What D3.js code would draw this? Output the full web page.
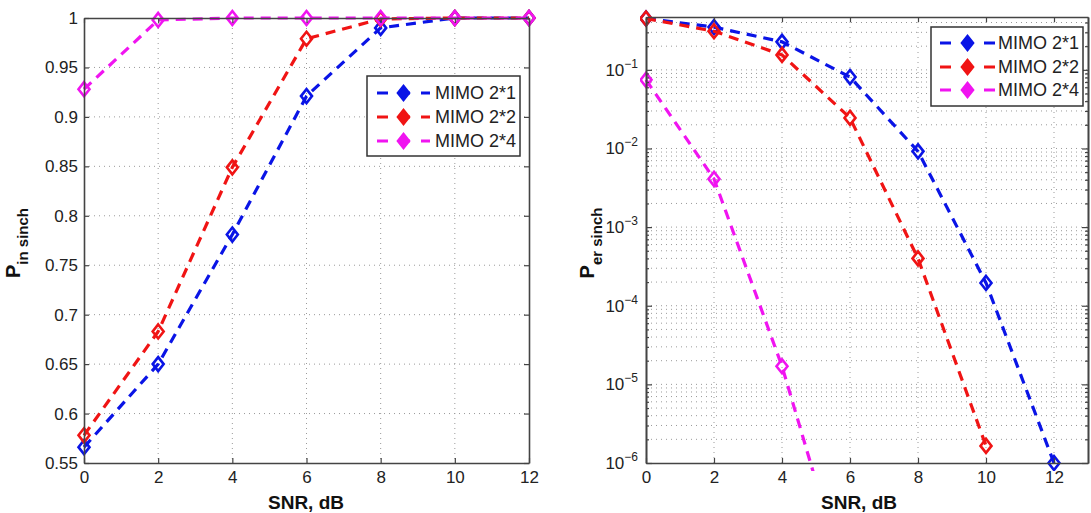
<!DOCTYPE html>
<html>
<head>
<meta charset="utf-8">
<script src="https://cdn.jsdelivr.net/npm/d3@7"></script>
<style>
  body { margin: 0; background: #fff; }
  svg { display: block; font-family: "Liberation Sans", Arial, sans-serif; }
</style>
</head>
<body>
<div id="chart"></div>
<script>
const snr = [0, 2, 4, 6, 8, 10, 12];
const seriesNames = ["MIMO 2*1", "MIMO 2*2", "MIMO 2*4"];
const seriesColors = ["#0a14e6", "#f01414", "#f014f0"];

// left panel: probability of being in sync
const pIn21 = [0.566, 0.650, 0.781, 0.921, 0.990, 1.0, 1.0];
const pIn22 = [0.578, 0.683, 0.849, 0.979, 0.999, 1.0, 1.0];
const pIn24 = [0.928, 0.998, 1.0, 1.0, 1.0, 1.0, 1.0];

// right panel: probability of sync error (log scale)
const pEr21 = [0.45, 0.35, 0.227, 0.081, 0.0092, 1.95e-4, 1.0e-6];
const pEr22 = [0.45, 0.31, 0.155, 0.0245, 4.0e-4, 1.65e-6];
const pEr24 = [0.0746, 0.0041, 1.7e-5, 2e-8];

const leftTicksY = [0.55, 0.6, 0.65, 0.7, 0.75, 0.8, 0.85, 0.9, 0.95, 1];
const xTicks = [0, 2, 4, 6, 8, 10, 12];
const logExps = [-6, -5, -4, -3, -2, -1];

const W = 1091, H = 513;
const svg = d3.select("#chart").append("svg").attr("width", W).attr("height", H);

const axisColor = "#444";
const textColor = "#222";
const gridColor = "#9a9a9a";
const diamondPath = "M0,-7L5.5,0L0,7L-5.5,0Z";

function drawSeries(g, x, y, data, color, clipId) {
  const line = d3.line().x((d, i) => x(snr[i])).y(d => y(d));
  const s = g.append("g").attr("clip-path", clipId ? `url(#${clipId})` : null);
  s.append("path")
    .datum(data)
    .attr("fill", "none")
    .attr("stroke", color)
    .attr("stroke-width", 3.2)
    .attr("stroke-dasharray", "10,7")
    .attr("d", line);
  s.selectAll("path.mk")
    .data(data.map((v, i) => ({ v, s: snr[i] })).filter(d => y(d.v) <= y.range()[0] + 1))
    .join("path")
    .attr("class", "mk")
    .attr("d", diamondPath)
    .attr("transform", d => `translate(${x(d.s)},${y(d.v)})`)
    .attr("fill", "none")
    .attr("stroke", color)
    .attr("stroke-width", 2.6);
}

function drawLegend(g, x0, y0, w, h, rows, lineX0, lineX1, textX) {
  g.append("rect")
    .attr("x", x0).attr("y", y0).attr("width", w).attr("height", h)
    .attr("fill", "#fff").attr("stroke", "#333").attr("stroke-width", 1.5);
  seriesNames.forEach((name, i) => {
    const yy = rows[i];
    g.append("line")
      .attr("x1", lineX0).attr("x2", lineX1).attr("y1", yy).attr("y2", yy)
      .attr("stroke", seriesColors[i]).attr("stroke-width", 3.2)
      .attr("stroke-dasharray", "11,11");
    g.append("path")
      .attr("d", diamondPath)
      .attr("transform", `translate(${(lineX0 + lineX1) / 2},${yy})`)
      .attr("fill", seriesColors[i])
      .attr("stroke", seriesColors[i]).attr("stroke-width", 2.6);
    g.append("text")
      .attr("x", textX).attr("y", yy + 6)
      .attr("font-size", 18).attr("fill", textColor)
      .text(name);
  });
}

function yLabel(g, cx, cy, sub) {
  const t = g.append("text")
    .attr("transform", `translate(${cx},${cy}) rotate(-90)`)
    .attr("text-anchor", "middle")
    .attr("font-weight", "bold")
    .attr("fill", "#111");
  t.append("tspan").attr("font-size", 20).text("P");
  t.append("tspan").attr("font-size", 15).attr("dy", 8).text(sub);
}

function styleAxes(list) {
  list.forEach(a => {
    a.select(".domain").attr("stroke", axisColor).attr("stroke-width", 1.6);
    a.selectAll(".tick line").attr("stroke", axisColor).attr("stroke-width", 1.2);
    a.selectAll("text").attr("font-size", 17).attr("fill", textColor)
      .attr("font-family", "Liberation Sans, Arial, sans-serif");
  });
}

// ---------------- left panel ----------------
{
  const x = d3.scaleLinear().domain([0, 12]).range([84, 529]);
  const y = d3.scaleLinear().domain([0.55, 1]).range([463, 18]);
  const g = svg.append("g");

  // grid
  g.append("g").selectAll("line")
    .data(xTicks.slice(1, -1)).join("line")
    .attr("x1", d => x(d)).attr("x2", d => x(d))
    .attr("y1", y.range()[1]).attr("y2", y.range()[0])
    .attr("stroke", gridColor).attr("stroke-width", 1).attr("stroke-dasharray", "1,4");
  g.append("g").selectAll("line")
    .data(leftTicksY.slice(1, -1)).join("line")
    .attr("x1", x.range()[0]).attr("x2", x.range()[1])
    .attr("y1", d => y(d)).attr("y2", d => y(d))
    .attr("stroke", gridColor).attr("stroke-width", 1).attr("stroke-dasharray", "1,4");

  drawSeries(g, x, y, pIn21, seriesColors[0]);
  drawSeries(g, x, y, pIn22, seriesColors[1]);
  drawSeries(g, x, y, pIn24, seriesColors[2]);

  // axes (inward ticks, boxed)
  const ax = d3.axisBottom(x).tickValues(xTicks).tickSizeInner(-5).tickSizeOuter(0).tickPadding(8);
  const ay = d3.axisLeft(y).tickValues(leftTicksY).tickFormat(d => d3.format("")(d)).tickSizeInner(-5).tickSizeOuter(0).tickPadding(6);
  const axT = d3.axisTop(x).tickValues(xTicks).tickSizeInner(-5).tickSizeOuter(0).tickFormat("");
  const ayR = d3.axisRight(y).tickValues(leftTicksY).tickSizeInner(-5).tickSizeOuter(0).tickFormat("");
  const gx = g.append("g").attr("transform", `translate(0,${y.range()[0]})`).call(ax);
  const gy = g.append("g").attr("transform", `translate(${x.range()[0]},0)`).call(ay);
  const gt = g.append("g").attr("transform", `translate(0,${y.range()[1]})`).call(axT);
  const gr = g.append("g").attr("transform", `translate(${x.range()[1]},0)`).call(ayR);
  styleAxes([gx, gy, gt, gr]);

  drawLegend(g, 367, 76, 153, 80, [93, 117, 141], 377, 430, 435);

  g.append("text").attr("x", 306).attr("y", 509)
    .attr("text-anchor", "middle").attr("font-weight", "bold").attr("font-size", 19)
    .attr("fill", "#111").text("SNR, dB");
  yLabel(g, 20, 243, "in sinch");
}

// ---------------- right panel ----------------
{
  const x = d3.scaleLinear().domain([0, 13]).range([646, 1088]);
  const y = d3.scaleLog().domain([1e-6, 0.47]).range([463, 17]);
  const g = svg.append("g");

  const defs = svg.append("defs");
  defs.append("clipPath").attr("id", "clipR")
    .append("rect").attr("x", 640).attr("y", 8).attr("width", 460).attr("height", 463);

  const majors = logExps.map(e => Math.pow(10, e));
  const minors = [];
  logExps.forEach(e => {
    for (let m = 2; m <= 9; m++) {
      const v = m * Math.pow(10, e);
      if (v <= 0.47) minors.push(v);
    }
  });

  // grid
  g.append("g").selectAll("line")
    .data(xTicks.slice(1)).join("line")
    .attr("x1", d => x(d)).attr("x2", d => x(d))
    .attr("y1", y.range()[1]).attr("y2", y.range()[0])
    .attr("stroke", gridColor).attr("stroke-width", 1).attr("stroke-dasharray", "1,4");
  g.append("g").selectAll("line")
    .data(majors.slice(1).concat(minors)).join("line")
    .attr("x1", x.range()[0]).attr("x2", x.range()[1])
    .attr("y1", d => y(d)).attr("y2", d => y(d))
    .attr("stroke", gridColor).attr("stroke-width", 1).attr("stroke-dasharray", "1,4");

  drawSeries(g, x, y, pEr21, seriesColors[0], "clipR");
  drawSeries(g, x, y, pEr22, seriesColors[1], "clipR");
  drawSeries(g, x, y, pEr24, seriesColors[2], "clipR");

  const ax = d3.axisBottom(x).tickValues(xTicks).tickSizeInner(-5).tickSizeOuter(0).tickPadding(8);
  const axT = d3.axisTop(x).tickValues(xTicks).tickSizeInner(-5).tickSizeOuter(0).tickFormat("");
  const ay = d3.axisLeft(y).tickValues(majors).tickFormat("").tickSizeInner(-6).tickSizeOuter(0);
  const ayMin = d3.axisLeft(y).tickValues(minors).tickFormat("").tickSizeInner(-3).tickSizeOuter(0);
  const ayR = d3.axisRight(y).tickValues(majors).tickFormat("").tickSizeInner(-6).tickSizeOuter(0);
  const ayRMin = d3.axisRight(y).tickValues(minors).tickFormat("").tickSizeInner(-3).tickSizeOuter(0);
  const gx = g.append("g").attr("transform", `translate(0,${y.range()[0]})`).call(ax);
  const gt = g.append("g").attr("transform", `translate(0,${y.range()[1]})`).call(axT);
  const gy = g.append("g").attr("transform", `translate(${x.range()[0]},0)`).call(ay);
  const gym = g.append("g").attr("transform", `translate(${x.range()[0]},0)`).call(ayMin);
  const gr = g.append("g").attr("transform", `translate(${x.range()[1]},0)`).call(ayR);
  const grm = g.append("g").attr("transform", `translate(${x.range()[1]},0)`).call(ayRMin);
  styleAxes([gx, gt, gy, gym, gr, grm]);

  // log tick labels 10^n
  g.append("g").selectAll("text")
    .data(logExps).join("text")
    .attr("x", x.range()[0] - 8)
    .attr("y", d => y(Math.pow(10, d)) + 6)
    .attr("text-anchor", "end")
    .attr("fill", textColor)
    .each(function (d) {
      const t = d3.select(this);
      t.append("tspan").attr("font-size", 17).text("10");
      t.append("tspan").attr("font-size", 12).attr("dy", -8).text("\u2212" + Math.abs(d));
    });

  drawLegend(g, 931, 27, 152, 79, [43, 67, 90], 940, 995, 998);

  g.append("text").attr("x", 859).attr("y", 509)
    .attr("text-anchor", "middle").attr("font-weight", "bold").attr("font-size", 19)
    .attr("fill", "#111").text("SNR, dB");
  yLabel(g, 594, 243, "er sinch");
}
</script>
</body>
</html>
